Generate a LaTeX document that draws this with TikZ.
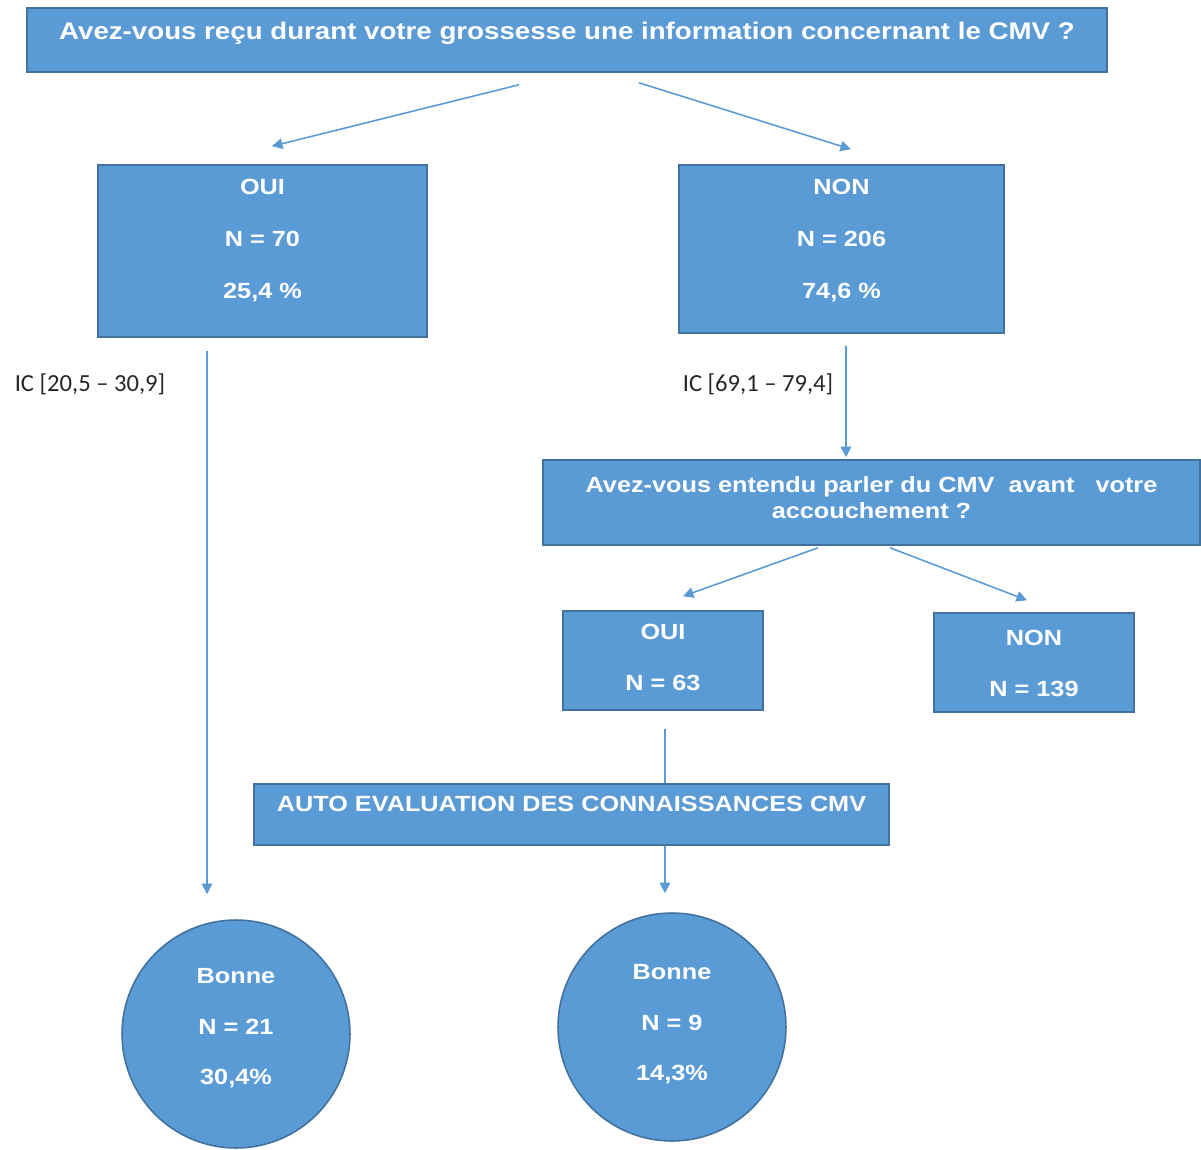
\documentclass[tikz,border=0pt]{standalone}
\usepackage{fontspec}
\setmainfont{Liberation Sans}[FakeStretch=1.15]
\newfontfamily\icfont{Carlito}
\definecolor{cmvblue}{RGB}{91,155,213}
\definecolor{cmvedge}{RGB}{65,113,156}
\usetikzlibrary{arrows.meta,calc}

\begin{document}
\begin{tikzpicture}[x=0.02cm, y=-0.02cm,
  boite/.style={draw=cmvedge, fill=cmvblue, line width=0.9pt, text=white, align=center, inner sep=0pt, text height=9pt, font=\bfseries\fontsize{12.5}{29.5}\selectfont},
  rond/.style={boite, circle, minimum size=4.56cm, text depth=0pt, font=\bfseries\fontsize{12.5}{29}\selectfont},
  fleche/.style={draw=cmvblue, line width=0.9pt, -{Triangle[length=6pt,width=6pt]}},
  trait/.style={draw=cmvblue, line width=0.9pt},
  ic/.style={font=\icfont\fontsize{14}{16}\selectfont, inner sep=0pt, text=black!85}]
  \useasboundingbox (0,0) rectangle (1201,1150);

  %--- Question 1 ---
  \node[boite, minimum width=21.6cm, minimum height=1.28cm, font=\bfseries\fontsize{13.7}{16}\selectfont, text height=9.8pt, text depth=10.2pt] (q1) at (567,40) {Avez-vous reçu durant votre grossesse une information concernant le CMV ?};

  % OUI / NON
  \node[boite, minimum width=6.58cm, minimum height=3.44cm, text height=54pt, text depth=0pt] (oui) at (262.5,251) {OUI\\N = 70\\25,4 \%};
  \node[boite, minimum width=6.5cm, minimum height=3.36cm, text height=56pt, text depth=0pt] (non) at (841.5,249) {NON\\N = 206\\74,6 \%};

  \draw[fleche] ($(q1.south)+(-48,12)$) -- ($(oui.north)+(9.5,-18)$);
  \draw[fleche] ($(q1.south)+(72,10)$) -- ($(non.north)+(9.5,-15)$);

  % intervalles de confiance
  \node[ic] (ic1) at (90,384) {IC [20,5 – 30,9]};
  \node[ic] (ic2) at (758,384) {IC [69,1 – 79,4]};

  %--- Question 2 ---
  \node[boite, minimum width=13.14cm, minimum height=1.7cm, font=\bfseries\fontsize{12.5}{15.3}\selectfont, text height=18.7pt, text depth=0pt] (q2) at (871.5,502.5) {Avez-vous entendu parler du CMV~ avant~~ votre\\accouchement ?};

  \draw[fleche] ($(non.south)+(4.5,12)$) -- ($(q2.north)+(-25.5,-2)$);

  \node[boite, minimum width=4cm, minimum height=1.98cm, font=\bfseries\fontsize{12.5}{29}\selectfont, text height=34.6pt, text depth=0pt] (oui2) at (663,660.5) {OUI\\N = 63};
  \node[boite, minimum width=4cm, minimum height=1.98cm, text height=39.1pt, text depth=0pt] (non2) at (1034,662.5) {NON\\N = 139};

  \draw[fleche] ($(q2.south)+(-53.5,2)$) -- ($(oui2.north)+(20,-14)$);
  \draw[fleche] ($(q2.south)+(18.5,2)$) -- ($(non2.north)+(-7,-12)$);

  %--- Auto evaluation ---
  \node[boite, minimum width=12.7cm, minimum height=1.22cm, text depth=12pt] (auto) at (571.5,814.5) {AUTO EVALUATION DES CONNAISSANCES CMV};

  \draw[trait] ($(oui2.south)+(2,18)$) -- ($(auto.north)+(93.5,0)$);

  % resultats
  \node[rond, text height=58pt] (c1) at (236,1034) {Bonne\\N = 21\\30,4\%};
  \node[rond, text height=61.4pt] (c2) at (672,1027) {Bonne\\N = 9\\14,3\%};

  \draw[fleche] ($(oui.south)+(-55.5,13)$) -- ($(c1.north)+(-29,-25)$);
  \draw[fleche] ($(auto.south)+(93.5,0)$) -- ($(c2.north)+(-7,-19)$);
\end{tikzpicture}
\end{document}
